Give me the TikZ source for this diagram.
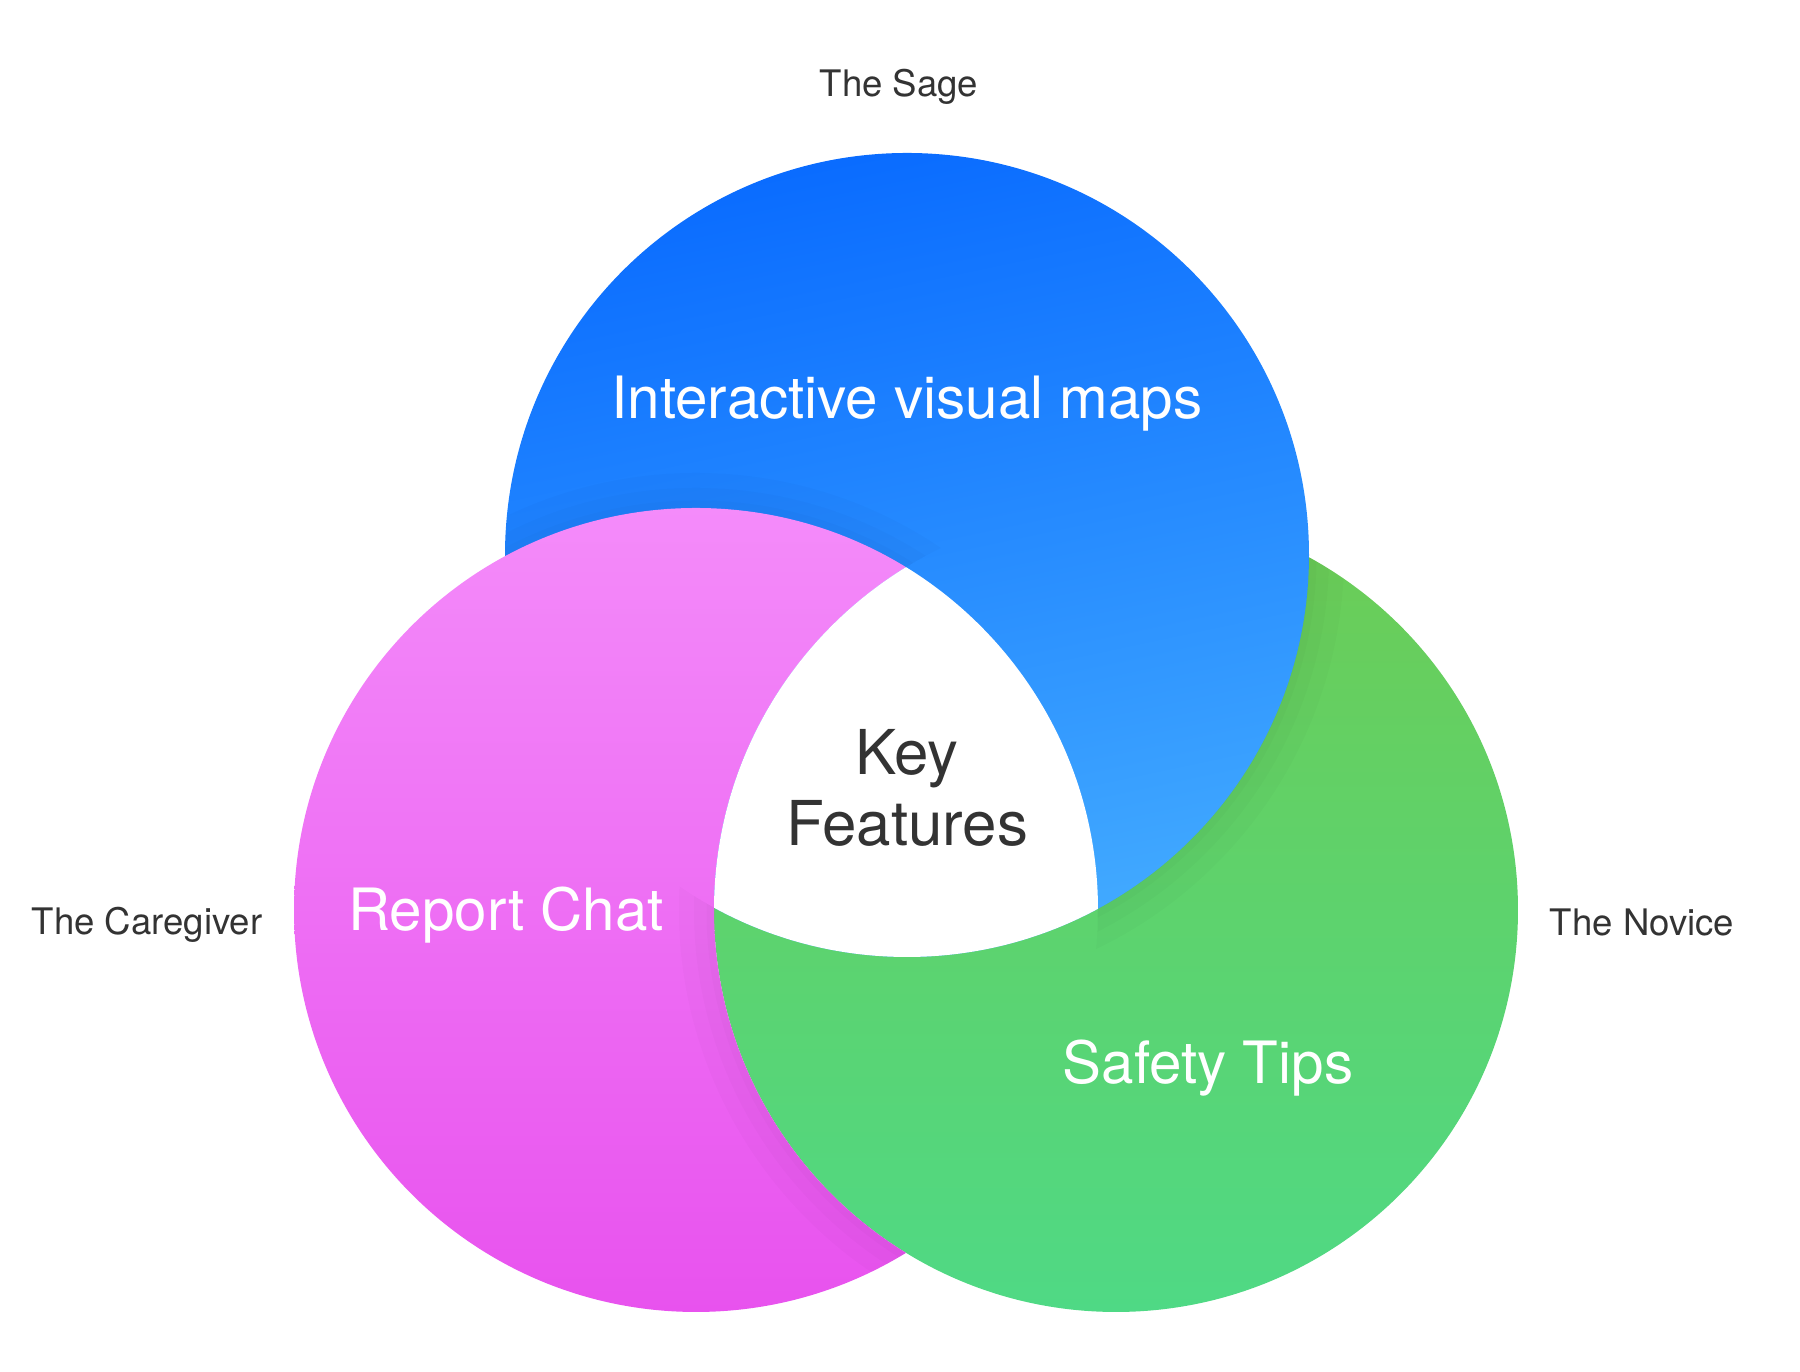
\documentclass[tikz,border=0pt]{standalone}
\usepackage{fontspec}
\setmainfont{TeX Gyre Heros}
\definecolor{SageTop}{HTML}{0A6CFF}
\definecolor{SageBot}{HTML}{42AAFF}
\definecolor{CareTop}{HTML}{F48BFA}
\definecolor{CareBot}{HTML}{E852EE}
\definecolor{NovTop}{HTML}{6CCC55}
\definecolor{NovBot}{HTML}{4FD985}
\definecolor{TextDark}{HTML}{333333}
\tikzset{
  featurelbl/.style={white, font=\fontsize{16.6}{20}\selectfont},
  personalbl/.style={TextDark, font=\fontsize{10.4}{12}\selectfont},
  softshadow/.style={black, opacity=0.014, line width=#1}
}

\begin{document}
\begin{tikzpicture}
    \useasboundingbox (0,0) rectangle (18,13.72);
    % Mittelpunkte der drei Kreise
    \coordinate (sage) at (9.07,8.17);
    \coordinate (care) at (6.96,4.62);
    \coordinate (nov) at (11.16,4.62);
    \def\rad{4.02}

    % Kreise: Gruen unten, Blau darueber
    \shade[top color=NovTop, bottom color=NovBot] (nov) circle (\rad);
    \shade[top color=SageTop, bottom color=SageBot, shading angle=12] (sage) circle (\rad);

    % Pink ueber Blau, aber unter Gruen
    \begin{scope}[even odd rule]
      \clip (0,0) rectangle (18,13.72) (nov) circle (\rad);
      \shade[top color=CareTop, bottom color=CareBot] (care) circle (\rad);
    \end{scope}

    % Schnittmenge aller drei Kreise weiss
    \begin{scope}
      \clip (sage) circle (\rad);
      \clip (care) circle (\rad);
      \fill[white] (nov) circle (\rad);
    \end{scope}

    % leichte Schatten an den Kanten
    \begin{scope}[even odd rule]
      \clip (sage) circle (\rad);
      \clip (0,0) rectangle (18,13.72) (care) circle (\rad);
      \clip (0,0) rectangle (18,13.72) (nov) circle (\rad);
      \foreach \w in {0.15,0.4,0.7}
        \draw[softshadow=\w cm] (care) circle (\rad);
    \end{scope}
    \begin{scope}[even odd rule]
      \clip (care) circle (\rad);
      \clip (0,0) rectangle (18,13.72) (nov) circle (\rad);
      \clip (0,0) rectangle (18,13.72) (sage) circle (\rad);
      \foreach \w in {0.15,0.4,0.7}
        \draw[softshadow=\w cm] (nov) circle (\rad);
    \end{scope}
    \begin{scope}[even odd rule]
      \clip (nov) circle (\rad);
      \clip (0,0) rectangle (18,13.72) (sage) circle (\rad);
      \clip (0,0) rectangle (18,13.72) (care) circle (\rad);
      \foreach \w in {0.15,0.4,0.7}
        \draw[softshadow=\w cm] (sage) circle (\rad);
    \end{scope}

    % Beschriftungen in den Kreisen
    \node[featurelbl] (maps) at (9.07,9.68) {Interactive visual maps};
    \node[featurelbl] (chat) at (5.06,4.57) {Report Chat};
    \node[featurelbl] (tips) at (12.08,3.04) {Safety Tips};
    \node[TextDark, align=center, font=\fontsize{17.6}{20}\selectfont] (key) at (9.07,5.84) {Key\\Features};

    % Personas aussen
    \node[personalbl] (sagelbl) at (8.99,12.85) {The Sage};
    \node[personalbl] (carelbl) at (1.47,4.47) {The Caregiver};
    \node[personalbl] (novlbl) at (16.42,4.50) {The Novice};
  \end{tikzpicture}
\end{document}
